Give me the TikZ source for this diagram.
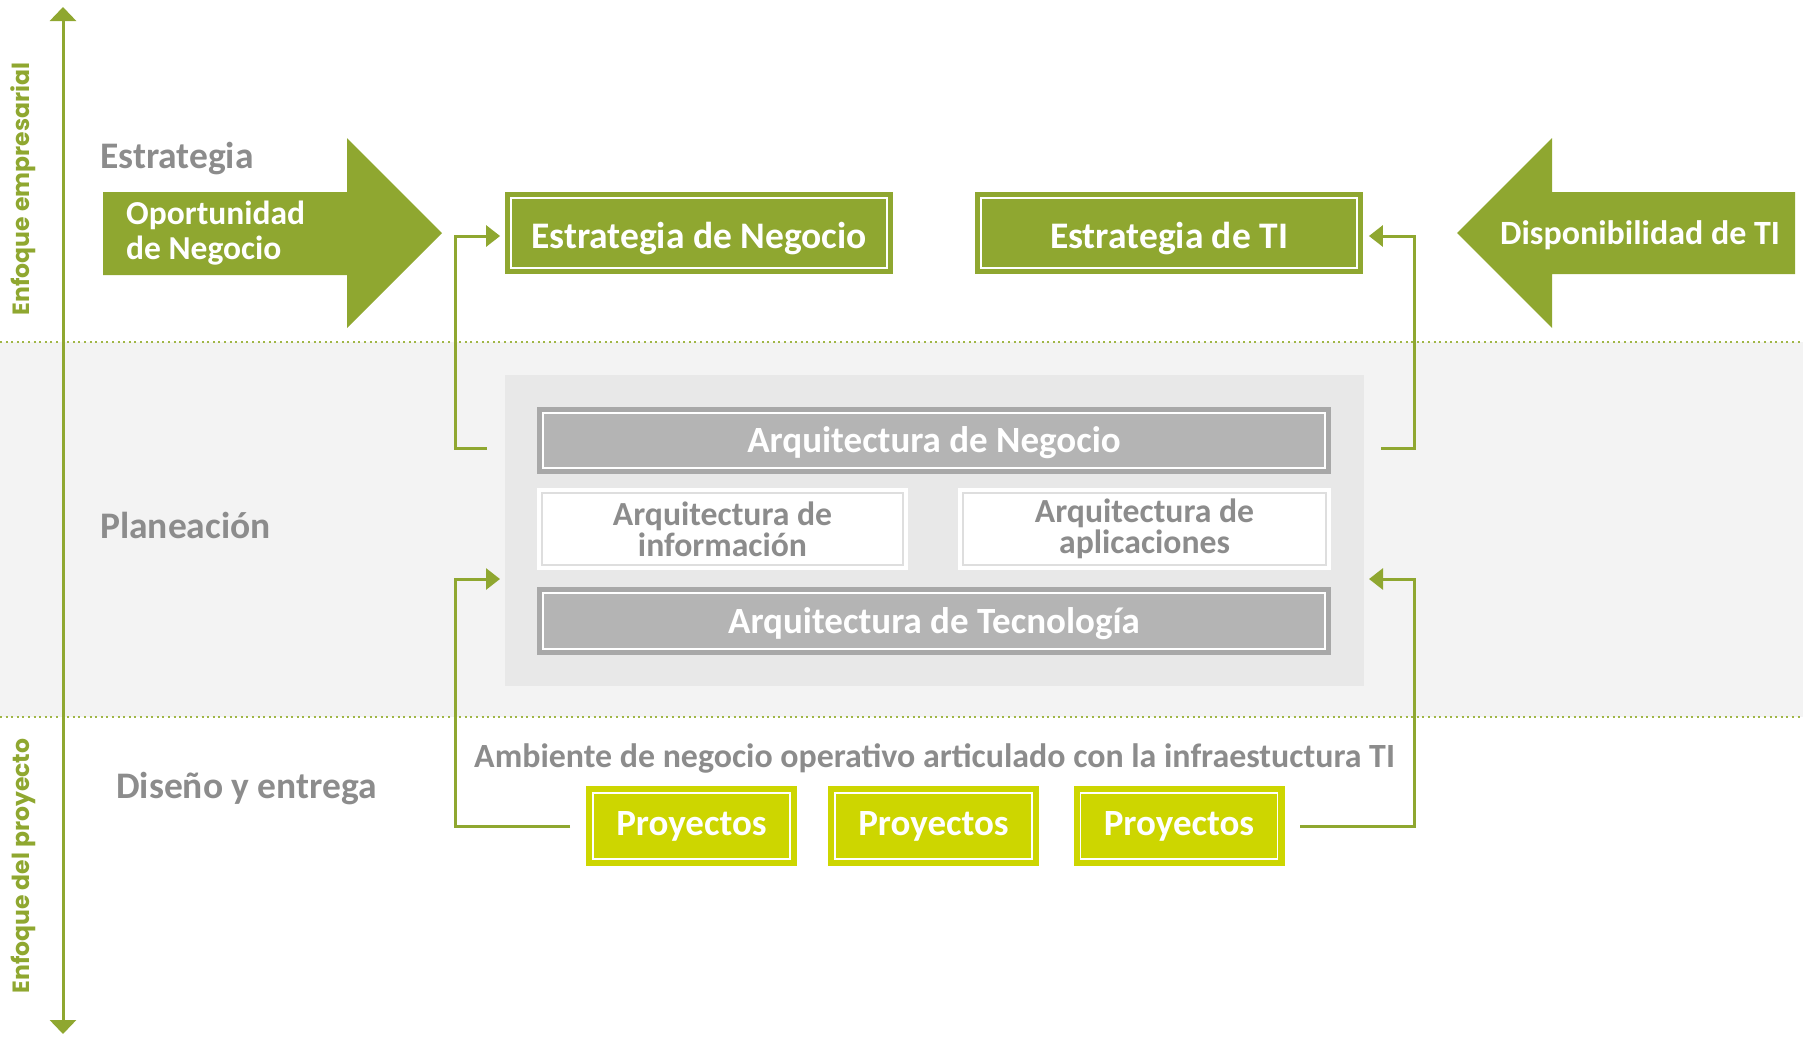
\documentclass[tikz,border=0pt]{standalone}
\usepackage{fontspec}
\setmainfont{Carlito}
\newfontfamily\geofont{Poppins}
\usetikzlibrary{arrows.meta}
\definecolor{grn}{RGB}{143,167,48}
\definecolor{dotgrn}{RGB}{160,182,70}
\definecolor{limeg}{RGB}{205,214,0}
\definecolor{txtgray}{RGB}{140,140,140}
\definecolor{bandgray}{RGB}{243,243,243}
\definecolor{boxgray}{RGB}{232,232,232}
\definecolor{bargray}{RGB}{180,180,180}
\definecolor{barframe}{RGB}{168,168,168}
\definecolor{boxline}{RGB}{222,222,222}
\begin{document}
\begin{tikzpicture}[x=1pt,y=-1pt,
  conn/.style={draw=grn,line width=3pt},
  tipend/.style={-{Triangle[length=14pt,width=21pt]}},
  axisline/.style={draw=grn,line width=3pt,{Triangle[length=14pt,width=26pt]}-{Triangle[length=14pt,width=26pt]}},
  dotline/.style={draw=dotgrn,line width=2pt,dash pattern=on 2pt off 3.6pt},
  bigarrow/.style={fill=grn},
  greenbox/.style={fill=grn,draw=white,line width=1.8pt,preaction={draw=grn,line width=12pt},
    inner sep=0pt,text=white,font=\bfseries\fontsize{37.5}{40}\selectfont,minimum height=70pt,minimum width=376pt,
    text height=30.9pt,text depth=0pt},
  graybar/.style={fill=bargray,draw=white,line width=1.8pt,preaction={draw=barframe,line width=12pt},
    inner sep=0pt,text=white,font=\bfseries\fontsize{37}{40}\selectfont,minimum width=782pt,
    text height=24.3pt,text depth=0pt},
  whitebox/.style={fill=white,draw=boxline,line width=1.5pt,preaction={draw=white,line width=10pt},
    inner sep=0pt,text=txtgray,align=center,font=\bfseries\fontsize{33.7}{31}\selectfont,minimum height=72pt},
  projbox/.style={fill=limeg,draw=white,line width=1.8pt,preaction={draw=limeg,line width=14pt},
    inner sep=0pt,text=white,font=\bfseries\fontsize{37}{40}\selectfont,minimum height=66pt,minimum width=197pt,
    text height=18.5pt,text depth=0pt},
  label/.style={inner sep=0pt,text=txtgray,font=\bfseries\fontsize{37.5}{40}\selectfont},
  vtext/.style={inner sep=0pt,text=grn,rotate=90,font=\geofont\bfseries\fontsize{23.5}{25}\selectfont},
]
\useasboundingbox (0,0) rectangle (1803,1037);
% background band
\fill[bandgray] (0,342) rectangle (1803,717);
\draw[dotline] (0,342) -- (1803,342);
\draw[dotline] (0,717) -- (1803,717);

% planning box
\node[fill=boxgray,minimum width=859pt,minimum height=311pt,inner sep=0pt] (plan) at (934.5,530.5) {};
\node[graybar,minimum height=55pt] (aneg) at (934,440.5) {Arquitectura de Negocio};
\node[whitebox,minimum width=361pt] (ainf) at (722.5,529) {Arquitectura de\\información};
\node[whitebox,minimum width=363pt] (aapl) at (1144.5,529) {Arquitectura de\\aplicaciones};
\node[graybar,minimum height=56pt] (atec) at (934,621) {Arquitectura de Tecnología};

% strategy boxes
\node[greenbox] (eneg) at (699,233) {Estrategia de Negocio};
\node[greenbox] (eti) at (1169,233) {Estrategia de TI};

% big arrows
\path[bigarrow] (103,192) -- (347,192) -- (347,138) -- (442,233) -- (347,328) -- (347,275) -- (103,275) -- cycle;
\node[anchor=west,align=left,inner sep=0pt,text=white,font=\bfseries\fontsize{33.5}{35}\selectfont] (opor) at (126,233) {Oportunidad\\de Negocio};
\path[bigarrow] (1795,192) -- (1552,192) -- (1552,138) -- (1457,233) -- (1552,328) -- (1552,274) -- (1795,274) -- cycle;
\node[inner sep=0pt,text=white,font=\bfseries\fontsize{34}{38}\selectfont,text height=22.3pt,text depth=0pt] (disp) at (1640,233) {Disponibilidad de TI};

% labels
\node[label,anchor=base west] (lest) at (100,168) {Estrategia};
\node[label,anchor=base west] (lpla) at (100,538) {Planeación};
\node[label,anchor=base west] (ldis) at (116,798) {Diseño y entrega};
\node[inner sep=0pt,anchor=base west,text=txtgray,font=\bfseries\fontsize{33.9}{36}\selectfont] (amb) at (474,767) {Ambiente de negocio operativo articulado con la infraestuctura TI};

% projects
\node[projbox] (p1) at (691.5,826) {Proyectos};
\node[projbox] (p2) at (933.5,826) {Proyectos};
\node[projbox] (p3) at (1179,826) {Proyectos};

% axis
\coordinate (axtop) at (63,7);
\coordinate (axbot) at (63,1034);
\draw[axisline] (axbot) -- (axtop);
\node[vtext] (ve1) at (23,189) {Enfoque empresarial};
\node[vtext] (ve2) at (23,866) {Enfoque del proyecto};

% connectors
\coordinate (lx) at (455,0);
\coordinate (rx) at (1414,0);
\coordinate (ulstart) at (487,448);
\coordinate (urstart) at (1381,448);
\coordinate (ultip) at ([yshift=-3pt]eneg.west);
\coordinate (urtip) at ([yshift=-3pt]eti.east);
\coordinate (llstart) at ([xshift=-22pt]p1.west);
\coordinate (lrstart) at ([xshift=22pt]p3.east);
\coordinate (llend) at (500,579);
\coordinate (lrend) at (1369,579);
\draw[conn,tipend,shorten >=10pt] (ulstart) -- (ulstart -| lx) |- (ultip);
\draw[conn,tipend,shorten >=11pt] (urstart) -- (urstart -| rx) |- (urtip);
\draw[conn,tipend] (llstart) -- (llstart -| lx) |- (llend);
\draw[conn,tipend] (lrstart) -- (lrstart -| rx) |- (lrend);
\end{tikzpicture}
\end{document}
